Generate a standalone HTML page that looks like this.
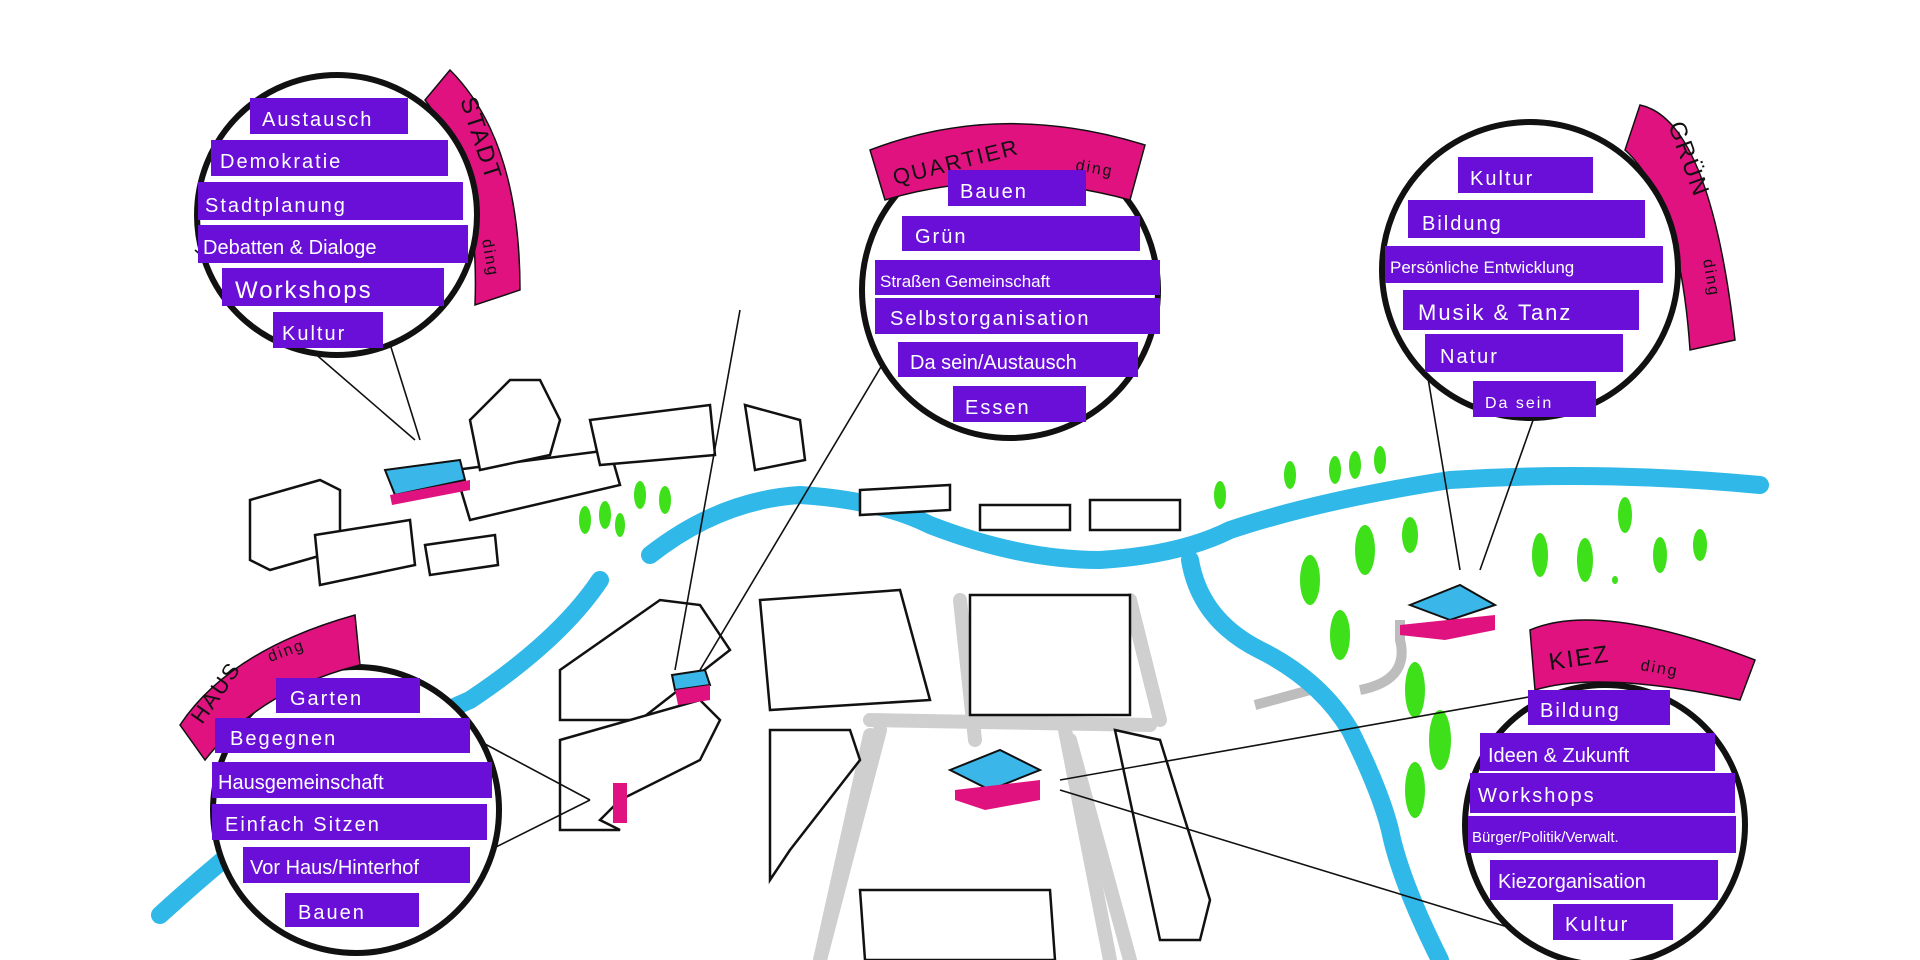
<!DOCTYPE html>
<html><head><meta charset="utf-8"><style>
html,body{margin:0;padding:0;background:#fff}
svg{display:block}
text{font-family:"Liberation Sans",sans-serif;fill:#fff;font-size:20px;letter-spacing:2px}
.b{fill:#6a0fd8}
.bld{fill:#fff;stroke:#111;stroke-width:2.5}
.ln{stroke:#111;stroke-width:1.6;fill:none}
.tree{fill:#3ee01a}
</style></head><body>
<svg width="1920" height="960" viewBox="0 0 1920 960" xmlns="http://www.w3.org/2000/svg">
<g stroke="#cfcfcf" stroke-width="14" fill="none" stroke-linecap="round">
<path d="M880 730 L820 960"/><path d="M1065 730 L1110 960"/>
<path d="M960 600 L975 740"/><path d="M870 720 L1150 725"/>
<path d="M870 735 L820 960"/><path d="M1130 600 L1160 720"/>
<path d="M1070 740 L1130 960"/>
</g>
<g stroke="#bdbdbd" stroke-width="10" fill="none">
<path d="M1255 705 L1310 690"/>
<path d="M1360 690 Q1410 680 1400 640 L1400 620"/>
</g>
<g stroke="#2fb8e8" stroke-width="18" fill="none" stroke-linecap="round" stroke-linejoin="round">
<path d="M160 915 Q330 760 470 700 Q560 640 600 580"/>
<path d="M650 555 Q720 500 800 495 Q880 500 930 525 Q1020 560 1100 560 Q1180 555 1230 530 Q1320 500 1450 480 Q1600 470 1760 485"/>
<path d="M1190 560 Q1200 620 1260 650 Q1320 680 1350 730 Q1380 790 1390 830 Q1400 880 1440 960"/>
</g>
<g>
<polygon class="bld" points="250,500 320,480 340,490 340,550 270,570 250,560"/>
<polygon class="bld" points="315,535 410,520 415,565 320,585"/>
<polygon class="bld" points="425,545 495,535 498,565 430,575"/>
<polygon class="bld" points="455,470 610,450 620,485 470,520"/>
<polygon class="bld" points="470,420 510,380 540,380 560,420 550,455 480,470"/>
<polygon class="bld" points="590,420 710,405 715,455 600,465"/>
<polygon class="bld" points="745,405 800,420 805,460 755,470"/>
<polygon class="bld" points="860,490 950,485 950,510 860,515"/>
<polygon class="bld" points="980,505 1070,505 1070,530 980,530"/>
<polygon class="bld" points="1090,500 1180,500 1180,530 1090,530"/>
<polygon class="bld" points="560,670 660,600 700,605 730,650 640,720 560,720"/>
<polygon class="bld" points="760,600 900,590 930,700 770,710"/>
<polygon class="bld" points="970,595 1130,595 1130,715 970,715"/>
<polygon class="bld" points="560,740 700,700 720,720 700,760 620,800 600,820 620,830 560,830"/>
<polygon class="bld" points="770,730 850,730 860,760 790,850 770,880"/>
<polygon class="bld" points="1115,730 1160,740 1210,900 1200,940 1160,940"/>
<polygon class="bld" points="860,890 1050,890 1055,960 865,960"/>
</g>
<g>
<polygon points="385,470 460,460 465,480 395,495" fill="#3ab7e8" stroke="#111" stroke-width="2"/>
<polygon points="390,495 470,480 470,490 392,505" fill="#e0127f"/>
<polygon points="672,675 705,670 710,685 675,690" fill="#3ab7e8" stroke="#111" stroke-width="2"/>
<polygon points="675,690 710,685 710,700 678,705" fill="#e0127f"/>
<polygon points="950,770 1000,750 1040,770 990,790" fill="#3ab7e8" stroke="#111" stroke-width="2"/>
<polygon points="955,790 1040,780 1040,800 985,810 955,800" fill="#e0127f"/>
<polygon points="1410,605 1460,585 1495,605 1450,620" fill="#3ab7e8" stroke="#111" stroke-width="2"/>
<polygon points="1400,625 1495,615 1495,630 1445,640 1400,635" fill="#e0127f"/>
<rect x="613" y="783" width="14" height="40" fill="#e0127f"/>
</g>
<g class="tree">
<ellipse cx="585" cy="520" rx="6" ry="14"/><ellipse cx="605" cy="515" rx="6" ry="14"/><ellipse cx="640" cy="495" rx="6" ry="14"/><ellipse cx="665" cy="500" rx="6" ry="14"/><ellipse cx="620" cy="525" rx="5" ry="12"/>
<ellipse cx="1220" cy="495" rx="6" ry="14"/><ellipse cx="1290" cy="475" rx="6" ry="14"/><ellipse cx="1335" cy="470" rx="6" ry="14"/><ellipse cx="1355" cy="465" rx="6" ry="14"/><ellipse cx="1380" cy="460" rx="6" ry="14"/>
<ellipse cx="1310" cy="580" rx="10" ry="25"/><ellipse cx="1365" cy="550" rx="10" ry="25"/><ellipse cx="1410" cy="535" rx="8" ry="18"/><ellipse cx="1340" cy="635" rx="10" ry="25"/>
<ellipse cx="1415" cy="690" rx="10" ry="28"/><ellipse cx="1440" cy="740" rx="11" ry="30"/><ellipse cx="1415" cy="790" rx="10" ry="28"/>
<ellipse cx="1540" cy="555" rx="8" ry="22"/><ellipse cx="1585" cy="560" rx="8" ry="22"/><ellipse cx="1625" cy="515" rx="7" ry="18"/><ellipse cx="1660" cy="555" rx="7" ry="18"/><ellipse cx="1700" cy="545" rx="7" ry="16"/><ellipse cx="1615" cy="580" rx="3" ry="4"/>
</g>
<g class="ln">
<line x1="195" y1="250" x2="415" y2="440"/><line x1="370" y1="280" x2="420" y2="440"/>
<line x1="740" y1="310" x2="675" y2="670"/><line x1="900" y1="335" x2="700" y2="670"/>
<line x1="1420" y1="330" x2="1460" y2="570"/><line x1="1565" y1="330" x2="1480" y2="570"/>
<line x1="440" y1="720" x2="590" y2="800"/><line x1="430" y1="880" x2="590" y2="800"/>
<line x1="1060" y1="780" x2="1540" y2="695"/><line x1="1060" y1="790" x2="1550" y2="940"/>
</g>
<!-- banners behind circles -->
<path d="M450 70 Q520 140 520 290 L475 305 Q480 170 425 100 Z" fill="#e0127f" stroke="#111" stroke-width="1.5"/>
<text transform="translate(460,100) rotate(72)" style="fill:#111;font-size:24px">STADT</text>
<text transform="translate(482,240) rotate(80)" style="fill:#111;font-size:16px">ding</text>
<path d="M1640 105 Q1710 120 1735 340 L1690 350 Q1680 200 1625 150 Z" fill="#e0127f" stroke="#111" stroke-width="1.5"/>
<text transform="translate(1668,125) rotate(70)" style="fill:#111;font-size:24px">GRÜN</text>
<text transform="translate(1703,260) rotate(80)" style="fill:#111;font-size:16px">ding</text>
<!-- circles -->
<circle cx="337" cy="215" r="140" fill="#fff" stroke="#111" stroke-width="6"/>
<circle cx="1010" cy="290" r="148" fill="#fff" stroke="#111" stroke-width="6"/>
<circle cx="1530" cy="270" r="148" fill="#fff" stroke="#111" stroke-width="6"/>
<circle cx="356" cy="810" r="143" fill="#fff" stroke="#111" stroke-width="6"/>
<circle cx="1605" cy="825" r="140" fill="#fff" stroke="#111" stroke-width="6"/>
<!-- banners on top -->
<path d="M870 150 Q1000 100 1145 145 L1130 200 Q1000 165 885 200 Z" fill="#e0127f" stroke="#111" stroke-width="1.5"/>
<text x="895" y="185" transform="rotate(-14 895 185)" style="fill:#111;font-size:22px">QUARTIER</text>
<text x="1075" y="170" transform="rotate(10 1075 170)" style="fill:#111;font-size:16px">ding</text>
<path d="M180 725 Q230 650 355 615 L360 665 Q260 690 205 760 Z" fill="#e0127f" stroke="#111" stroke-width="1.5"/>
<text transform="translate(202,725) rotate(-55)" style="fill:#111;font-size:22px">HAUS</text>
<text transform="translate(270,662) rotate(-20)" style="fill:#111;font-size:16px">ding</text>
<path d="M1530 630 Q1600 600 1755 660 L1740 700 Q1600 670 1535 690 Z" fill="#e0127f" stroke="#111" stroke-width="1.5"/>
<text x="1550" y="670" transform="rotate(-8 1550 670)" style="fill:#111;font-size:24px">KIEZ</text>
<text x="1640" y="670" transform="rotate(10 1640 670)" style="fill:#111;font-size:16px">ding</text>
<!-- STADT bars -->
<g>
<rect class="b" x="250" y="98" width="158" height="36"/><text x="262" y="126">Austausch</text>
<rect class="b" x="211" y="140" width="237" height="36"/><text x="220" y="168">Demokratie</text>
<rect class="b" x="198" y="182" width="265" height="38"/><text x="205" y="212">Stadtplanung</text>
<rect class="b" x="198" y="225" width="270" height="38"/><text x="203" y="254" style="letter-spacing:0">Debatten &amp; Dialoge</text>
<rect class="b" x="222" y="268" width="222" height="38"/><text x="235" y="298" style="font-size:24px">Workshops</text>
<rect class="b" x="273" y="312" width="110" height="36"/><text x="282" y="340">Kultur</text>
</g>
<g>
<rect class="b" x="948" y="170" width="138" height="36"/><text x="960" y="198">Bauen</text>
<rect class="b" x="902" y="216" width="238" height="35"/><text x="915" y="243">Grün</text>
<rect class="b" x="875" y="260" width="285" height="35"/><text x="880" y="287" style="font-size:17px;letter-spacing:0">Straßen Gemeinschaft</text>
<rect class="b" x="875" y="298" width="285" height="36"/><text x="890" y="325">Selbstorganisation</text>
<rect class="b" x="898" y="342" width="240" height="35"/><text x="910" y="369" style="letter-spacing:0">Da sein/Austausch</text>
<rect class="b" x="953" y="386" width="133" height="36"/><text x="965" y="414">Essen</text>
</g>
<g>
<rect class="b" x="1458" y="157" width="135" height="36"/><text x="1470" y="185">Kultur</text>
<rect class="b" x="1408" y="200" width="237" height="38"/><text x="1422" y="230">Bildung</text>
<rect class="b" x="1385" y="246" width="278" height="37"/><text x="1390" y="273" style="font-size:17px;letter-spacing:0">Persönliche Entwicklung</text>
<rect class="b" x="1403" y="290" width="236" height="40"/><text x="1418" y="320" style="font-size:22px">Musik &amp; Tanz</text>
<rect class="b" x="1425" y="334" width="198" height="38"/><text x="1440" y="363">Natur</text>
<rect class="b" x="1473" y="381" width="123" height="36"/><text x="1485" y="408" style="font-size:16px">Da sein</text>
</g>
<g>
<rect class="b" x="276" y="678" width="144" height="35"/><text x="290" y="705">Garten</text>
<rect class="b" x="215" y="718" width="255" height="35"/><text x="230" y="745">Begegnen</text>
<rect class="b" x="212" y="762" width="280" height="36"/><text x="218" y="789" style="letter-spacing:0">Hausgemeinschaft</text>
<rect class="b" x="212" y="804" width="275" height="36"/><text x="225" y="831">Einfach Sitzen</text>
<rect class="b" x="243" y="847" width="227" height="36"/><text x="250" y="874" style="letter-spacing:0">Vor Haus/Hinterhof</text>
<rect class="b" x="285" y="893" width="134" height="34"/><text x="298" y="919">Bauen</text>
</g>
<g>
<rect class="b" x="1528" y="690" width="142" height="35"/><text x="1540" y="717">Bildung</text>
<rect class="b" x="1480" y="733" width="235" height="38"/><text x="1488" y="762" style="letter-spacing:0">Ideen &amp; Zukunft</text>
<rect class="b" x="1470" y="773" width="265" height="40"/><text x="1478" y="802">Workshops</text>
<rect class="b" x="1468" y="816" width="268" height="37"/><text x="1472" y="842" style="font-size:15px;letter-spacing:0">Bürger/Politik/Verwalt.</text>
<rect class="b" x="1490" y="860" width="228" height="40"/><text x="1498" y="888" style="letter-spacing:0">Kiezorganisation</text>
<rect class="b" x="1553" y="904" width="120" height="36"/><text x="1565" y="931">Kultur</text>
</g>
</svg>
</body></html>
